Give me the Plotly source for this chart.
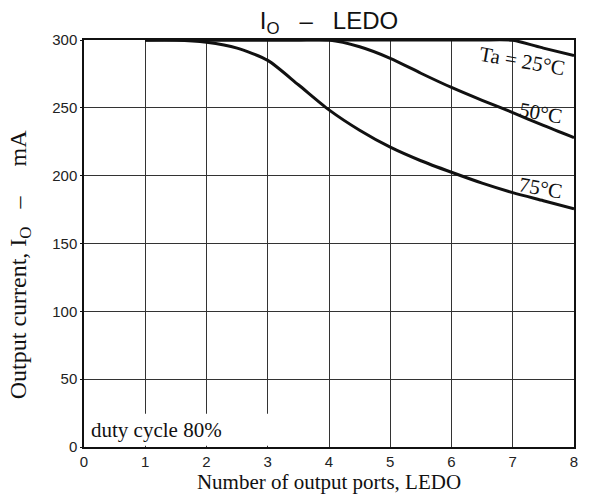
import plotly.graph_objects as go

# ---- data ----
ports = [1, 1.5, 2, 2.5, 3, 3.5, 4, 4.5, 5, 5.5, 6, 6.5, 7, 7.5, 8]
io_25 = [300, 300, 300, 300, 300, 300, 300, 300, 300, 300, 300, 300, 299.8, 294, 288.5]
io_50 = [300, 300, 300, 300, 300, 300, 300, 295, 286.5, 275.5, 265, 255.5, 246.5, 237, 228]
io_75 = [300, 300, 298.3, 294, 285, 267, 248.5, 233.5, 221, 211, 202.5, 194.5, 187.5, 181.5, 175.5]

curve_labels = ["Ta = 25°C", "50°C", "75°C"]
label_x = [7.15, 7.45, 7.46]
label_y = [284.5, 246, 191]

x_ticks = [0, 1, 2, 3, 4, 5, 6, 7, 8]
y_ticks = [0, 50, 100, 150, 200, 250, 300]

SERIF = "Liberation Serif, Times New Roman, serif"
SANS = "Liberation Sans, Arial, sans-serif"
NB = "&nbsp;"

fig = go.Figure()
for ys in (io_25, io_50, io_75):
    fig.add_trace(go.Scatter(
        x=ports, y=ys, mode="lines",
        line=dict(color="#111111", width=3, shape="spline", smoothing=0.7),
        showlegend=False, hoverinfo="skip"))

for t, xx, yy in zip(curve_labels, label_x, label_y):
    fig.add_annotation(x=xx, y=yy, text=t, showarrow=False, textangle=10,
                       font=dict(family=SERIF, size=21, color="#111111"))

fig.add_annotation(x=0.08, y=12.5, text="duty cycle 80%", showarrow=False,
                   xanchor="left", yanchor="middle",
                   font=dict(family=SERIF, size=21, color="#111111"))

# y-axis title (placed as an annotation so it sits where the reference has it)
fig.add_annotation(xref="paper", yref="paper", x=(20 - 84) / 492, y=(447 - 265) / 407,
                   text="Output current, I<sub>O</sub>" + NB * 3 + "–" + NB * 5 + "mA",
                   textangle=-90, showarrow=False, xanchor="center", yanchor="middle",
                   font=dict(family=SERIF, size=24, color="#111111"))

# white patch under the "duty cycle" label that interrupts the grid lines
fig.add_shape(type="rect", x0=0.03, x1=3.15, y0=0.9, y1=24.5,
              fillcolor="white", line=dict(width=0), layer="between")

fig.update_layout(
    width=590, height=500,
    margin=dict(l=84, r=14, t=40, b=53),
    paper_bgcolor="white", plot_bgcolor="white",
    title=dict(text="I<sub>O</sub>" + NB * 3 + "–" + NB * 3 + "LEDO", x=329 / 590,
               xanchor="center", y=0.958, yanchor="middle", yref="container",
               font=dict(family=SANS, size=24, color="#111111")),
    xaxis=dict(range=[0, 8], tickvals=x_ticks, showgrid=True,
               gridcolor="#333333", gridwidth=1, showline=True, mirror=True,
               linecolor="#111111", linewidth=1.5, ticks="", zeroline=False,
               tickfont=dict(family=SANS, size=15, color="#222222"),
               title=dict(text="Number of output ports, LEDO", standoff=4,
                          font=dict(family=SERIF, size=21, color="#111111"))),
    yaxis=dict(range=[0, 300], tickvals=y_ticks, showgrid=True,
               gridcolor="#333333", gridwidth=1, showline=True, mirror=True,
               linecolor="#111111", linewidth=1.5, ticks="outside", ticklen=2,
               tickcolor="#111111", zeroline=False,
               tickfont=dict(family=SANS, size=15, color="#222222")),
)

fig.write_html("out.html", config={"displayModeBar": False},
               post_script="document.body.style.margin='0';document.body.style.overflow='hidden';")
